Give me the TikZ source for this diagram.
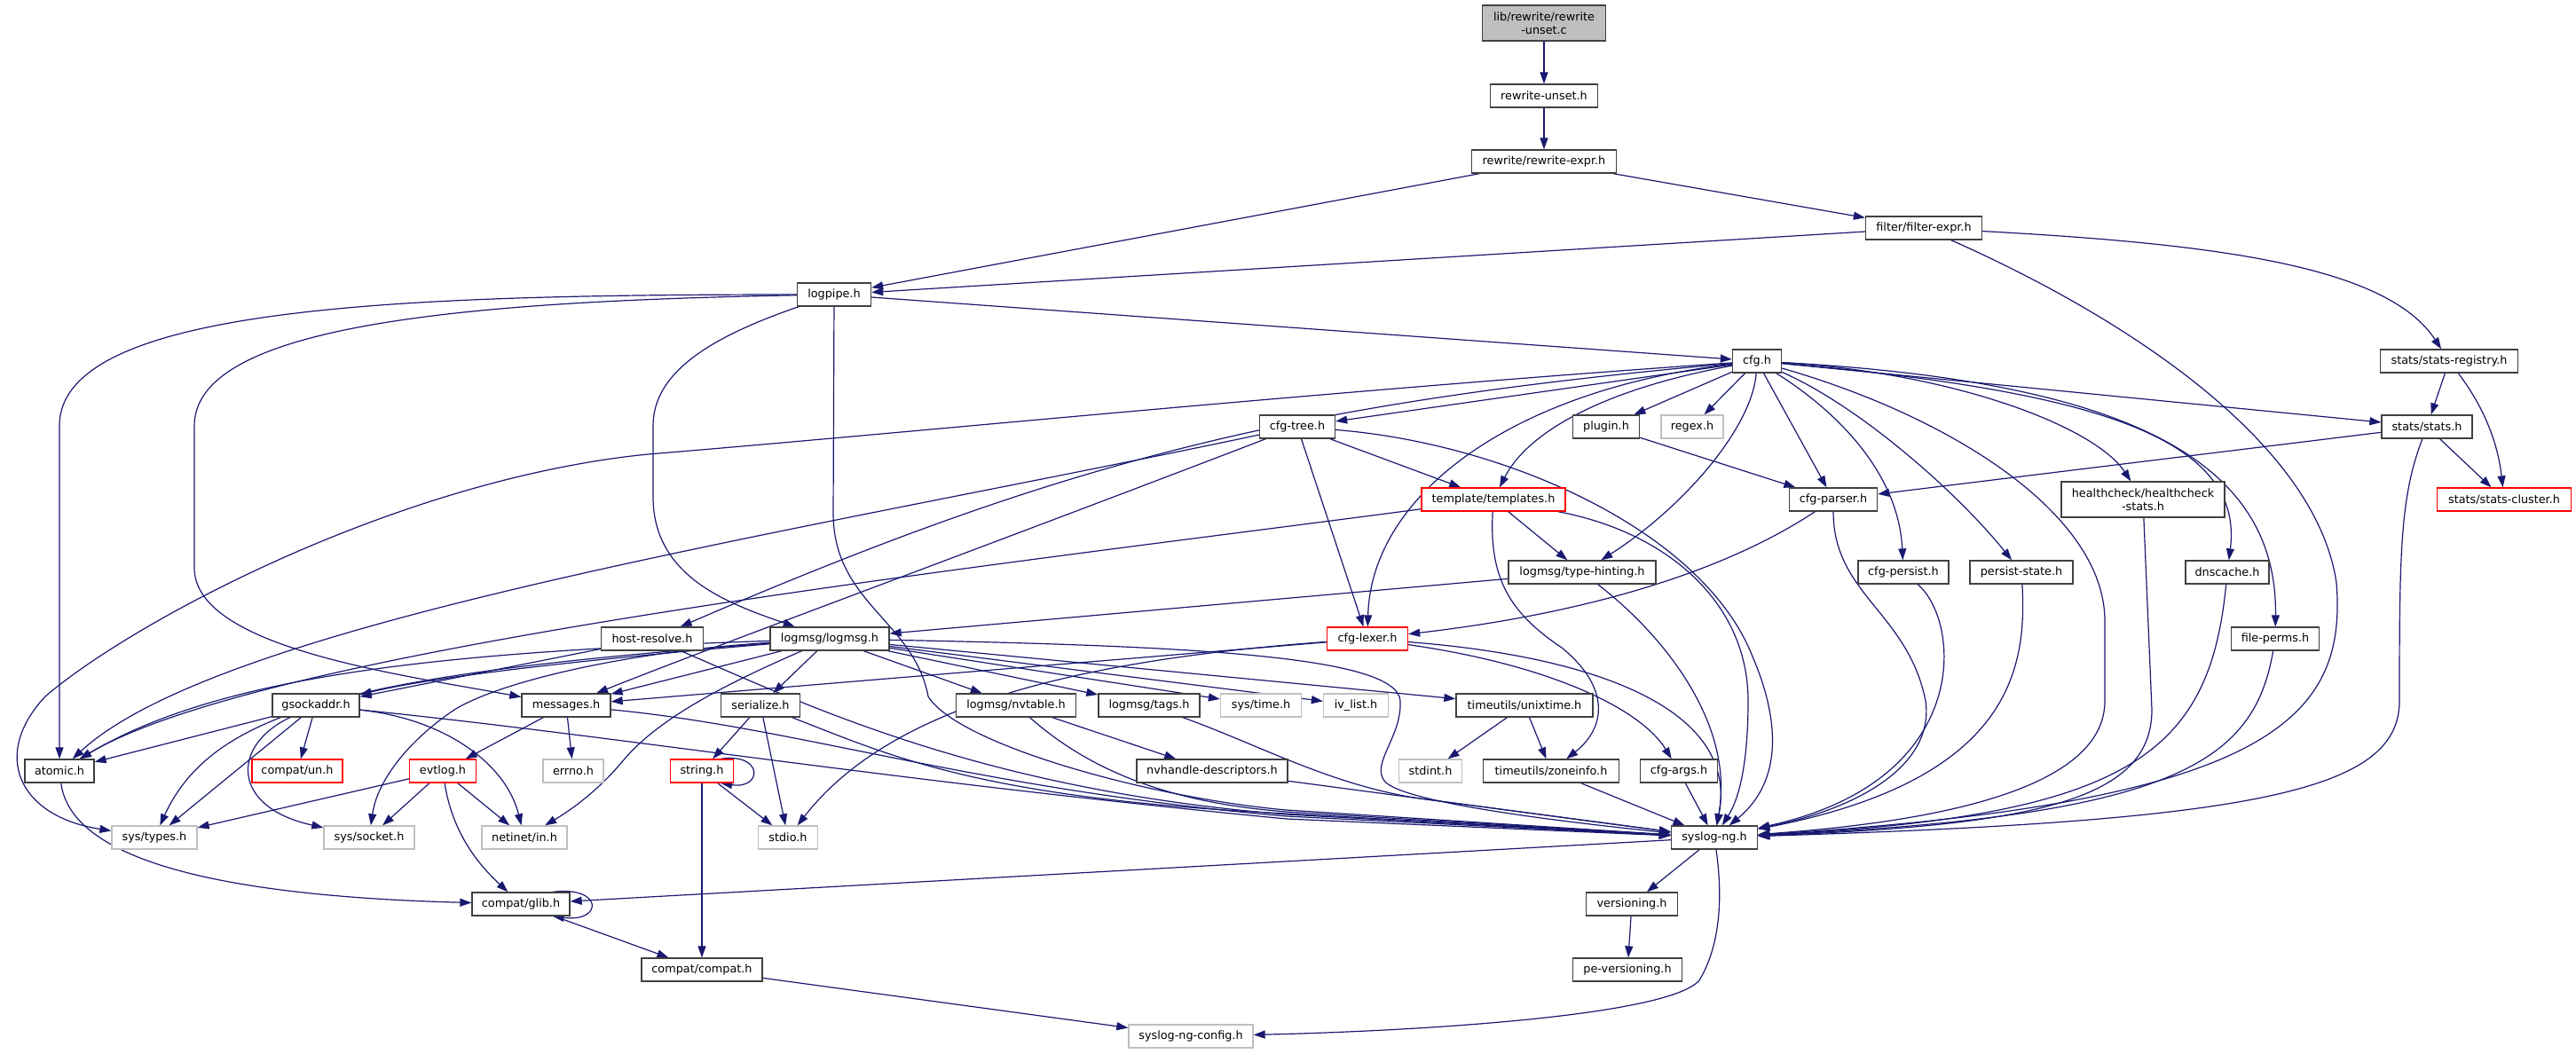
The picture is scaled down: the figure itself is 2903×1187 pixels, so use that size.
\documentclass[tikz,border=0pt]{standalone}
\usepackage{fontspec}
\setmainfont{DejaVu Sans}
\usetikzlibrary{arrows.meta}
\definecolor{edgeblue}{HTML}{191970}
\definecolor{bordergray}{HTML}{404040}
\definecolor{sysgray}{HTML}{BFBFBF}
\definecolor{rootfill}{HTML}{BFBFBF}
\pgfdeclarelayer{bg}
\pgfsetlayers{bg,main}
\tikzset{
  box/.style={draw=bordergray, fill=white, line width=1.3pt, inner sep=0pt,
    minimum height=26pt, align=center, font=\fontsize{12.8}{15}\selectfont},
  sysbox/.style={box, draw=sysgray},
  redbox/.style={box, draw=red},
  e/.style={draw=edgeblue, line width=1.2pt, -{Triangle[length=13pt,width=9pt]}}
}
\begin{document}
\begin{tikzpicture}[x=1pt,y=-1pt]
\useasboundingbox (0,0) rectangle (2903,1187);
\node[box, fill=rootfill, minimum width=139pt, minimum height=40pt] (root) at (1740,26) {lib/rewrite/rewrite\\-unset.c};
\node[box, minimum width=121pt] (rwu) at (1740,108) {rewrite-unset.h};
\node[box, minimum width=163pt] (rwe) at (1740,182) {rewrite/rewrite-expr.h};
\node[box, minimum width=131pt] (fex) at (2168,257) {filter/filter-expr.h};
\node[box, minimum width=83pt] (lp) at (940,332) {logpipe.h};
\node[box, minimum width=155pt] (sreg) at (2760,407) {stats/stats-registry.h};
\node[box, minimum width=55pt] (cfg) at (1980,407) {cfg.h};
\node[box, minimum width=102pt] (stats) at (2735,481) {stats/stats.h};
\node[box, minimum width=85pt] (ctree) at (1462,481) {cfg-tree.h};
\node[box, minimum width=75pt] (plug) at (1810,481) {plugin.h};
\node[sysbox, minimum width=70pt] (regex) at (1907,481) {regex.h};
\node[redbox, minimum width=151pt] (sclu) at (2822,563) {stats/stats-cluster.h};
\node[redbox, minimum width=162pt] (tpl) at (1683,563) {template/templates.h};
\node[box, minimum width=99pt] (cpar) at (2066,563) {cfg-parser.h};
\node[box, minimum width=184pt, minimum height=40pt] (hc) at (2415,563) {healthcheck/healthcheck\\-stats.h};
\node[box, minimum width=166pt] (th) at (1783,645) {logmsg/type-hinting.h};
\node[box, minimum width=102pt] (cpers) at (2145,645) {cfg-persist.h};
\node[box, minimum width=116pt] (pst) at (2278,645) {persist-state.h};
\node[box, minimum width=94pt] (dns) at (2510,645) {dnscache.h};
\node[box, minimum width=115pt] (hr) at (735,720) {host-resolve.h};
\node[box, minimum width=134pt] (lm) at (935,720) {logmsg/logmsg.h};
\node[redbox, minimum width=91pt] (clex) at (1541,720) {cfg-lexer.h};
\node[box, minimum width=99pt] (fperm) at (2564,720) {file-perms.h};
\node[box, minimum width=98pt] (gsa) at (356,795) {gsockaddr.h};
\node[box, minimum width=100pt] (msg) at (638,795) {messages.h};
\node[box, minimum width=89pt] (ser) at (857,795) {serialize.h};
\node[box, minimum width=135pt] (nvt) at (1145,795) {logmsg/nvtable.h};
\node[box, minimum width=114pt] (tags) at (1295,795) {logmsg/tags.h};
\node[sysbox, minimum width=91pt] (stime) at (1421,795) {sys/time.h};
\node[sysbox, minimum width=73pt] (ivl) at (1528,795) {iv\_list.h};
\node[box, minimum width=154pt] (unix) at (1718,795) {timeutils/unixtime.h};
\node[box, minimum width=78pt] (atom) at (67,869) {atomic.h};
\node[redbox, minimum width=102pt] (cun) at (335,869) {compat/un.h};
\node[redbox, minimum width=75pt] (evt) at (499,869) {evtlog.h};
\node[sysbox, minimum width=68pt] (errno) at (646,869) {errno.h};
\node[redbox, minimum width=71pt] (str) at (791,869) {string.h};
\node[box, minimum width=170pt] (nvh) at (1366,869) {nvhandle-descriptors.h};
\node[sysbox, minimum width=71pt] (stdint) at (1612,869) {stdint.h};
\node[box, minimum width=153pt] (zone) at (1748,869) {timeutils/zoneinfo.h};
\node[box, minimum width=87pt] (cargs) at (1892,869) {cfg-args.h};
\node[sysbox, minimum width=96pt] (stypes) at (174,944) {sys/types.h};
\node[sysbox, minimum width=102pt] (ssock) at (416,944) {sys/socket.h};
\node[sysbox, minimum width=96pt] (netin) at (591,944) {netinet/in.h};
\node[sysbox, minimum width=67pt] (stdio) at (888,944) {stdio.h};
\node[box, minimum width=97pt] (sng) at (1932,944) {syslog-ng.h};
\node[box, minimum width=110pt] (glib) at (587,1019) {compat/glib.h};
\node[box, minimum width=103pt] (ver) at (1839,1019) {versioning.h};
\node[box, minimum width=136pt] (compat) at (791,1093) {compat/compat.h};
\node[box, minimum width=123pt] (pever) at (1834,1093) {pe-versioning.h};
\node[sysbox, minimum width=140pt] (sngc) at (1342,1168) {syslog-ng-config.h};

\begin{pgfonlayer}{bg}
\draw[e] (root) -- (rwu);
\draw[e] (rwu) -- (rwe);
\draw[e] (rwe) -- (lp);
\draw[e] (rwe) -- (fex);
\draw[e] (fex) -- (lp);
\draw[e] (fex) .. controls (2400,360) and (2610,500) .. (2633,657) .. controls (2645,810) and (2560,905) .. (sng);
\draw[e] (fex) .. controls (2500,275) and (2690,300) .. (sreg);
\draw[e] (lp) -- (cfg);
\draw[e] (lp) .. controls (450,332) and (67,345) .. (67,480) -- (atom);
\draw[e] (lp) .. controls (500,340) and (219,370) .. (219,480) -- (219,640) .. controls (219,730) and (450,760) .. (msg);
\draw[e] (lp) .. controls (800,380) and (736,420) .. (736,480) -- (736,560) .. controls (736,650) and (820,680) .. (lm);
\draw[e] (lp) -- (939,580) .. controls (940,680) and (1030,700) .. (1046,785) .. controls (1080,840) and (1300,900) .. (1450,913) -- (sng);
% cfg.h
\draw[e] (cfg) -- (ctree);
\draw[e] (cfg) -- (plug);
\draw[e] (cfg) -- (regex);
\draw[e] (cfg) .. controls (1800,440) and (1720,490) .. (tpl);
\draw[e] (cfg) .. controls (1700,440) and (1545,560) .. (clex);
\draw[e] (cfg) .. controls (1975,480) and (1900,570) .. (th);
\draw[e] (cfg) -- (cpar);
\draw[e] (cfg) .. controls (2080,470) and (2140,540) .. (cpers);
\draw[e] (cfg) .. controls (2100,460) and (2210,560) .. (pst);
\draw[e] (cfg) .. controls (2200,420) and (2360,480) .. (hc);
\draw[e] (cfg) .. controls (2350,440) and (2530,490) .. (dns);
\draw[e] (cfg) .. controls (2400,430) and (2567,520) .. (fperm);
\draw[e] (cfg) -- (stats);
\draw[e] (cfg) .. controls (1450,455) and (1200,520) .. (hr);
\draw[e] (cfg) .. controls (1500,440) and (1000,490) .. (730,512) .. controls (450,540) and (150,700) .. (51,785) .. controls (-10,850) and (20,920) .. (stypes);
\draw[e] (cfg) .. controls (2200,470) and (2372,580) .. (2372,700) -- (2372,790) .. controls (2372,885) and (2200,925) .. (sng);
% cfg-tree.h
\draw[e] (ctree) -- (tpl);
\draw[e] (ctree) -- (clex);
\draw[e] (ctree) .. controls (1700,500) and (1920,600) .. (1975,740) .. controls (2005,810) and (2010,880) .. (sng);
\draw[e] (ctree) .. controls (900,600) and (250,700) .. (atom);
\draw[e] (ctree) .. controls (1100,620) and (800,730) .. (msg);
% templates
\draw[e] (tpl) -- (th);
\draw[e] (tpl) .. controls (1100,640) and (300,730) .. (atom);
\draw[e] (tpl) .. controls (1678,650) and (1700,690) .. (1760,730) .. controls (1815,775) and (1810,820) .. (zone);
\draw[e] (tpl) .. controls (1880,600) and (1970,680) .. (1970,790) .. controls (1970,860) and (1960,900) .. (sng);
\draw[e] (plug) -- (cpar);
% stats
\draw[e] (sreg) -- (stats);
\draw[e] (sreg) .. controls (2800,460) and (2815,500) .. (sclu);
\draw[e] (stats) -- (sclu);
\draw[e] (stats) -- (cpar);
\draw[e] (stats) .. controls (2705,560) and (2704,620) .. (2704,790) .. controls (2704,890) and (2550,925) .. (sng);
% type-hinting
\draw[e] (th) -- (lm);
\draw[e] (th) .. controls (1880,720) and (1955,820) .. (sng);
% cfg-parser
\draw[e] (cpar) .. controls (1950,640) and (1800,690) .. (clex);
\draw[e] (cpar) .. controls (2066,670) and (2150,690) .. (2170,790) .. controls (2180,860) and (2100,910) .. (sng);
\draw[e] (cpers) .. controls (2210,700) and (2225,880) .. (sng);
\draw[e] (pst) .. controls (2285,760) and (2260,880) .. (sng);
\draw[e] (hc) -- (2425,800) .. controls (2425,900) and (2300,930) .. (sng);
\draw[e] (dns) .. controls (2490,850) and (2400,920) .. (sng);
\draw[e] (fperm) .. controls (2540,860) and (2450,920) .. (sng);
% cfg-lexer
\draw[e] (clex) -- (msg);
\draw[e] (clex) .. controls (1200,745) and (1000,800) .. (stdio);
\draw[e] (clex) .. controls (1750,750) and (1850,800) .. (cargs);
\draw[e] (clex) .. controls (1800,740) and (1960,800) .. (sng);
% host-resolve
\draw[e] (hr) -- (gsa);
\draw[e] (hr) .. controls (900,790) and (1100,890) .. (1450,918) -- (sng);
% logmsg
\draw[e] (lm) .. controls (700,740) and (500,760) .. (gsa);
\draw[e] (lm) .. controls (500,735) and (250,760) .. (atom);
\draw[e] (lm) .. controls (400,760) and (240,800) .. (stypes);
\draw[e] (lm) .. controls (700,735) and (560,770) .. (512,800) .. controls (460,835) and (425,880) .. (ssock);
\draw[e] (lm) .. controls (820,770) and (740,810) .. (700,860) .. controls (670,895) and (640,915) .. (netin);
\draw[e] (lm) -- (msg);
\draw[e] (lm) -- (ser);
\draw[e] (lm) -- (nvt);
\draw[e] (lm) -- (tags);
\draw[e] (lm) -- (stime);
\draw[e] (lm) -- (ivl);
\draw[e] (lm) -- (unix);
\draw[e] (lm) .. controls (1350,728) and (1575,740) .. (1578,790) .. controls (1580,830) and (1545,860) .. (1560,880) .. controls (1575,900) and (1700,920) .. (sng);
% gsockaddr
\draw[e] (gsa) -- (atom);
\draw[e] (gsa) -- (cun);
\draw[e] (gsa) -- (stypes);
\draw[e] (gsa) .. controls (260,840) and (260,910) .. (ssock);
\draw[e] (gsa) .. controls (500,810) and (570,860) .. (netin);
\draw[e] (gsa) .. controls (700,830) and (1000,880) .. (1450,923) -- (sng);
% messages
\draw[e] (msg) -- (evt);
\draw[e] (msg) -- (errno);
\draw[e] (msg) .. controls (900,820) and (1100,890) .. (1450,920) -- (sng);
% serialize
\draw[e] (ser) -- (str);
\draw[e] (ser) -- (stdio);
\draw[e] (ser) .. controls (1000,850) and (1100,900) .. (1450,917) -- (sng);
% nvtable etc
\draw[e] (nvt) -- (nvh);
\draw[e] (nvt) .. controls (1230,870) and (1320,905) .. (1450,915) -- (sng);
\draw[e] (tags) .. controls (1420,840) and (1500,885) .. (1600,900) -- (sng);
\draw[e] (nvh) -- (sng);
\draw[e] (unix) -- (stdint);
\draw[e] (unix) -- (zone);
\draw[e] (zone) -- (sng);
\draw[e] (cargs) -- (sng);
\draw[e] (sng) -- (ver);
\draw[e] (ver) -- (pever);
\draw[e] (sng) -- (glib);
\draw[e] (sng) .. controls (1940,1000) and (1942,1060) .. (1915,1105) .. controls (1880,1145) and (1600,1162) .. (sngc);
\draw[e] (compat) -- (sngc);
\draw[e] (glib) -- (compat);
\draw[e] (str) -- (compat);
\draw[e] (str) -- (stdio);
\draw[e] ([xshift=-15pt]str.north east) .. controls (860,848) and (860,890) .. ([xshift=-15pt]str.south east);
\draw[e] ([xshift=-20pt]glib.north east) .. controls (680,998) and (680,1040) .. ([xshift=-20pt]glib.south east);
\draw[e] (atom) .. controls (80,970) and (250,1010) .. (glib);
% evtlog
\draw[e] (evt) -- (stypes);
\draw[e] (evt) -- (ssock);
\draw[e] (evt) -- (netin);
\draw[e] (evt) .. controls (510,940) and (540,975) .. (glib);
\end{pgfonlayer}
\end{tikzpicture}
\end{document}
